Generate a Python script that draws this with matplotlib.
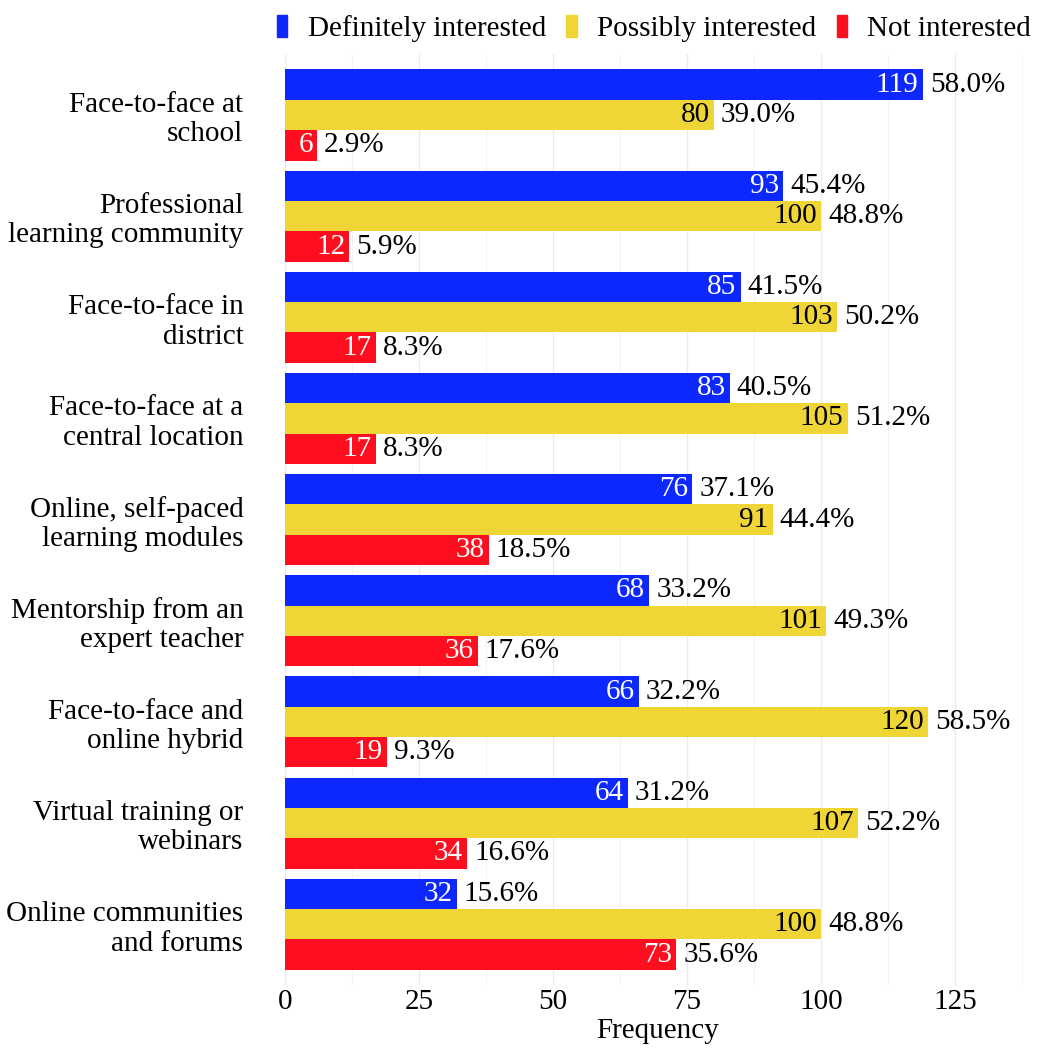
import matplotlib
matplotlib.use("Agg")
import matplotlib.pyplot as plt
import numpy as np
from matplotlib.patches import Patch

categories = ["Face-to-face at\nschool", "Professional\nlearning community", "Face-to-face in\ndistrict",
              "Face-to-face at a\ncentral location", "Online, self-paced\nlearning modules",
              "Mentorship from an\nexpert teacher", "Face-to-face and\nonline hybrid",
              "Virtual training or\nwebinars", "Online communities\nand forums"]
series = ["Definitely interested", "Possibly interested", "Not interested"]
definitely = [119, 93, 85, 83, 76, 68, 66, 64, 32]
possibly = [80, 100, 103, 105, 91, 101, 120, 107, 100]
not_int = [6, 12, 17, 17, 38, 36, 19, 34, 73]
pct_def = ["58.0%", "45.4%", "41.5%", "40.5%", "37.1%", "33.2%", "32.2%", "31.2%", "15.6%"]
pct_pos = ["39.0%", "48.8%", "50.2%", "51.2%", "44.4%", "49.3%", "58.5%", "52.2%", "48.8%"]
pct_not = ["2.9%", "5.9%", "8.3%", "8.3%", "18.5%", "17.6%", "9.3%", "16.6%", "35.6%"]
xticks = [0, 25, 50, 75, 100, 125]

colors = ["#0C28FE", "#EFD535", "#FE0E1F"]
count_colors = ["white", "black", "white"]

plt.rcParams['font.family'] = ['Liberation Serif', 'DejaVu Serif']
FS = 21

fig = plt.figure(figsize=(10.51, 10.51), dpi=100)
ax = fig.add_axes([285/1051, 66/1051, (1030-285)/1051, (996.7-66)/1051])

y = np.arange(len(categories))
h = 0.3
offsets = [-h, 0, h]
vals = [definitely, possibly, not_int]
pcts = [pct_def, pct_pos, pct_not]
for k in range(3):
    ax.barh(y + offsets[k], vals[k], height=h, color=colors[k], label=series[k], zorder=2)
    for i in range(len(categories)):
        v = vals[k][i]
        ax.annotate(str(v), (v, y[i] + offsets[k]), xytext=(-3, 0), textcoords='offset points',
                    ha='right', va='center', fontsize=FS, color=count_colors[k], zorder=3)
        ax.annotate(pcts[k][i], (v, y[i] + offsets[k]), xytext=(5, 0), textcoords='offset points',
                    ha='left', va='center', fontsize=FS, color='black', zorder=3)

ax.set_xlim(0, 139)
ax.set_ylim(8.6, -0.6)
ax.set_yticks(y)
ax.set_yticklabels(categories, fontsize=FS, linespacing=1.16)
ax.set_xticks(xticks)
ax.set_xticks(np.arange(12.5, 139, 25), minor=True)
ax.tick_params(axis='x', labelsize=FS, length=0, pad=3, which='both')
ax.tick_params(axis='y', length=0, pad=30)
ax.grid(axis='x', which='major', color='#EBEBEB', linewidth=1.0, zorder=0)
ax.grid(axis='x', which='minor', color='#F3F3F3', linewidth=0.8, zorder=0)
ax.set_axisbelow(True)
for s in ax.spines.values():
    s.set_visible(False)
ax.set_xlabel("Frequency", fontsize=FS, labelpad=2)

handles = [Patch(color=c) for c in colors]
fig.legend(handles, series, loc='upper center', bbox_to_anchor=(654/1051, 1.0), ncol=3,
           frameon=False, fontsize=FS, handlelength=0.35, handleheight=0.8,
           handletextpad=0.7, columnspacing=0.7, borderaxespad=0.1)

fig.savefig("out.png", dpi=100)
